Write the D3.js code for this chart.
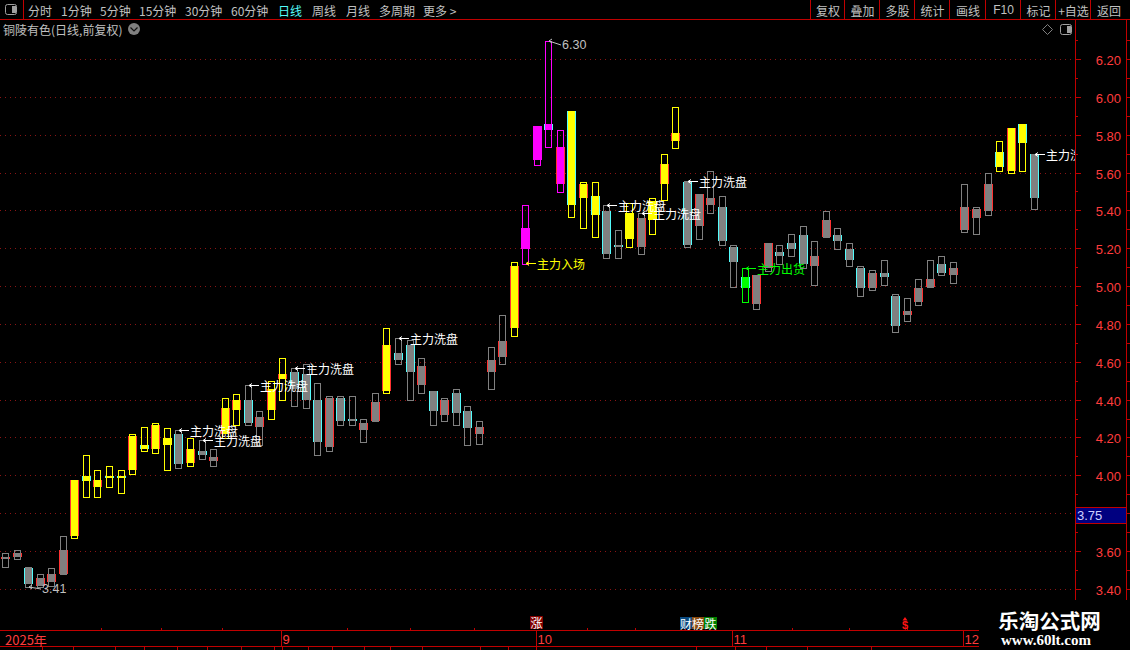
<!DOCTYPE html>
<html><head><meta charset="utf-8">
<script src="https://cdnjs.cloudflare.com/ajax/libs/d3/7.8.5/d3.min.js"></script>
<style>html,body{margin:0;padding:0;background:#000;overflow:hidden}svg{display:block}</style>
</head><body><svg id="c" width="1130" height="650"></svg>
<script>
const opens=[3.56,3.57,3.51,3.42,3.44,3.48,3.68,4.00,3.94,4.00,4.00,4.03,4.16,4.14,4.16,4.22,4.07,4.13,4.08,4.22,4.35,4.40,4.26,4.35,4.51,4.55,4.54,4.40,4.15,4.41,4.30,4.24,4.29,4.45,4.65,4.69,4.48,4.45,4.32,4.44,4.34,4.22,4.55,4.63,4.78,5.20,5.67,5.86,5.54,5.93,5.47,5.48,5.40,5.22,5.25,5.21,5.35,5.54,5.77,5.55,5.32,5.43,5.42,5.21,5.05,4.91,5.10,5.18,5.23,5.27,5.11,5.26,5.27,5.20,5.10,4.99,5.07,4.95,4.85,4.92,5.00,5.12,5.06,5.30,5.36,5.40,5.71,5.61,5.86,5.70];
const closes=[3.57,3.59,3.43,3.46,3.48,3.61,3.98,3.97,3.98,4.00,3.99,4.21,4.14,4.27,4.20,4.06,4.14,4.11,4.10,4.36,4.40,4.28,4.31,4.46,4.54,4.46,4.40,4.18,4.41,4.29,4.29,4.28,4.39,4.69,4.61,4.55,4.58,4.34,4.40,4.33,4.25,4.26,4.61,4.71,5.11,5.31,5.85,5.83,5.74,5.43,5.54,5.38,5.17,5.22,5.39,5.36,5.45,5.65,5.81,5.22,5.49,5.47,5.24,5.13,4.99,5.06,5.23,5.16,5.20,5.12,5.16,5.35,5.24,5.14,4.99,5.07,5.05,4.79,4.87,4.99,5.04,5.07,5.10,5.42,5.41,5.54,5.63,5.84,5.76,5.47];
const highs=[3.59,3.61,3.52,3.48,3.51,3.68,3.98,4.11,4.03,4.05,4.03,4.22,4.26,4.28,4.25,4.24,4.20,4.19,4.14,4.41,4.43,4.48,4.34,4.50,4.62,4.57,4.59,4.49,4.42,4.42,4.42,4.30,4.44,4.78,4.73,4.72,4.62,4.45,4.41,4.46,4.37,4.29,4.68,4.85,5.13,5.43,5.85,6.30,5.83,5.93,5.55,5.55,5.43,5.30,5.44,5.39,5.47,5.70,5.95,5.56,5.49,5.61,5.48,5.22,5.10,5.06,5.23,5.22,5.28,5.32,5.24,5.40,5.31,5.23,5.11,5.09,5.14,4.96,4.94,5.04,5.14,5.16,5.13,5.54,5.42,5.60,5.77,5.84,5.86,5.70];
const lows=[3.52,3.56,3.41,3.41,3.42,3.48,3.67,3.89,3.89,3.94,3.91,4.01,4.13,4.12,4.03,4.04,4.05,4.09,4.05,4.20,4.27,4.27,4.16,4.30,4.40,4.37,4.36,4.11,4.13,4.27,4.27,4.18,4.29,4.44,4.59,4.40,4.44,4.27,4.29,4.27,4.16,4.17,4.46,4.59,4.74,5.12,5.64,5.74,5.50,5.37,5.31,5.26,5.15,5.15,5.21,5.17,5.28,5.46,5.73,5.21,5.25,5.39,5.22,5.00,4.92,4.88,5.08,5.12,5.16,5.10,5.01,5.26,5.20,5.11,4.95,4.98,5.01,4.76,4.82,4.90,5.00,5.06,5.02,5.29,5.28,5.38,5.61,5.60,5.61,5.41];
const yellowBars=[6,7,8,9,10,11,12,13,14,16,19,20,23,24,33,44,49,50,51,54,56,57,58,86,87,88];
const magentaBars=[45,46,47,48];
const greenBars=[64];
const plainEdgeBars=[14,45,46,54,56];
const priceLabels=[6.2,6.0,5.8,5.6,5.4,5.2,5.0,4.8,4.6,4.4,4.2,4.0,3.6,3.4];
const minorPrices=[6.3,6.1,5.9,5.7,5.5,5.3,5.1,4.9,4.7,4.5,4.3,4.1,3.9,3.7,3.5];
const signalBars=[15,17,21,25,34,45,52,55,59,64,89];
const signalTexts=["主力洗盘","主力洗盘","主力洗盘","主力洗盘","主力洗盘","主力入场","主力洗盘","主力洗盘","主力洗盘","主力出货","主力洗盘"];
const signalColors=["#ffffff","#ffffff","#ffffff","#ffffff","#ffffff","#ffff00","#ffffff","#ffffff","#ffffff","#00ff00","#ffffff"];
const monthBars=[0,24,46,63,83];
const monthLabels=["2025年","9","10","11","12"];
const upperTicks=[8.28,13.47,18.75,29.5,35,40.5,50.3,54.5,58.8,68,73,78];
const lowerTicks=[3.16,5.84,9.48,12,14.84,17.44,20.38,23.24,23.93,26.18,28.26,31,33.27,36.04,41.06,43.49,45.9,59.76,63.13,65.81,69.36,74.9];
const leftMenu=["分时","1分钟","5分钟","15分钟","30分钟","60分钟","日线","周线","月线","多周期","更多 >"];
const leftMenuX=[28,61,100,139,185,231,278,312,346,379,423];
const rightMenu=["复权","叠加","多股","统计","画线","F10","标记","+自选","返回"];
const rightMenuEdges=[810,844,879,914,949,985,1020,1055,1090,1126];

const RED="#c00000",TXT="#ff3c3c",CY="#54fcfc",ER="#ff3232",GREY="#808080";
const CJK="'Noto Sans CJK SC','Noto Sans',sans-serif",LAT="'Liberation Sans',sans-serif";
const x=d3.scaleLinear().domain([0,89]).range([5.5,1034.3]);
const y=d3.scaleLinear().domain([3.4,6.2]).range([589.3,59.5]);
const px=i=>Math.floor(x(i)), py=v=>Math.round(y(v));
const svg=d3.select("#c");
svg.append("rect").attr("width",1130).attr("height",650).attr("fill","#000");
const line=(g,a,b,c,d,col)=>g.append("line").attr("x1",a).attr("y1",b).attr("x2",c).attr("y2",d).attr("stroke",col||RED).attr("stroke-width",1).attr("shape-rendering","crispEdges");
const label=(g,a,b,s,col,size,fam,anchor)=>g.append("text").attr("x",a).attr("y",b).text(s).attr("fill",col).attr("font-size",size).attr("font-family",fam||CJK).attr("text-anchor",anchor||"start").attr("dominant-baseline","central");

// grid
const grid=svg.append("g");
priceLabels.concat([3.8]).forEach(p=>{
  const yy=Math.floor(y(p))+.5;
  line(grid,0,yy,1075,yy,"#8a1414").attr("stroke-dasharray","1 4");
});

// toolbar
const tb=svg.append("g");
line(tb,0,19.5,1130,19.5);
line(tb,23.5,0,23.5,19);
tb.append("rect").attr("x",5.5).attr("y",4.5).attr("width",11).attr("height",10).attr("rx",2).attr("fill","none").attr("stroke","#a0a0a0");
tb.append("rect").attr("x",12).attr("y",6).attr("width",4).attr("height",7).attr("fill","#a0a0a0");
leftMenu.forEach((s,i)=>label(tb,leftMenuX[i],10,s,s==="日线"?"#54fcfc":"#c0c0c0",12));
rightMenu.forEach((s,i)=>{
  line(tb,rightMenuEdges[i]+.5,0,rightMenuEdges[i]+.5,19);
  const mid=(rightMenuEdges[i]+rightMenuEdges[i+1])/2;
  label(tb,mid+1,10,s,"#c0c0c0",12,s==="F10"?LAT:CJK,"middle");
});
label(tb,3,29.5,"铜陵有色(日线,前复权)","#c0c0c0",12);
tb.append("circle").attr("cx",134).attr("cy",29).attr("r",6).attr("fill","#808080");
tb.append("path").attr("d","M130.5 27.5L134 31L137.5 27.5").attr("fill","none").attr("stroke","#111").attr("stroke-width",1.2);
tb.append("path").attr("d","M1047.5 24.5L1052.5 29.5L1047.5 34.5L1042.5 29.5Z").attr("fill","none").attr("stroke","#808080");
tb.append("rect").attr("x",1060.5).attr("y",24.5).attr("width",11).attr("height",10).attr("rx",2).attr("fill","none").attr("stroke","#a0a0a0");
tb.append("rect").attr("x",1067).attr("y",26).attr("width",4).attr("height",7).attr("fill","#a0a0a0");

// candles
const toneOf=i=>yellowBars.includes(i)?"#ffff00":magentaBars.includes(i)?"#ff00ff":greenBars.includes(i)?"#00ff00":GREY;
const bars=svg.append("g").attr("shape-rendering","crispEdges");
const idx=d3.range(closes.length);
bars.selectAll("rect.w").data(idx).join("rect").attr("class","w")
  .attr("x",i=>px(i)-2.5).attr("width",6)
  .attr("y",i=>py(highs[i])+.5).attr("height",i=>Math.max(1,py(lows[i])-py(highs[i])))
  .attr("fill","none").attr("stroke",toneOf);
const bodyTop=i=>py(Math.max(opens[i],closes[i])), bodyH=i=>Math.max(2,py(Math.min(opens[i],closes[i]))-bodyTop(i));
bars.selectAll("rect.b").data(idx).join("rect").attr("class","b")
  .attr("x",i=>px(i)-3).attr("width",7)
  .attr("y",bodyTop).attr("height",bodyH).attr("fill",toneOf);
const edge=i=>plainEdgeBars.includes(i)?toneOf(i):(closes[i]>opens[i]?ER:CY);
[-4,4].forEach(d=>{
  bars.selectAll("rect.e"+(d+4)).data(idx).join("rect").attr("class","e"+(d+4))
   .attr("x",i=>px(i)+d).attr("width",1).attr("y",bodyTop).attr("height",bodyH).attr("fill",edge);
});

// signals
const defs=svg.append("defs");
defs.append("clipPath").attr("id","plot").append("rect").attr("x",0).attr("y",20).attr("width",1075).attr("height",610);
const ann=svg.append("g").attr("clip-path","url(#plot)");
signalBars.forEach((b,k)=>{
  const tx=px(b)+1, ty=signalTexts[k]==="主力入场"?py(lows[b])-.5:py(highs[b])+.5, col=signalColors[k];
  ann.append("path").attr("d",`M${tx} ${ty}H${tx+10}M${tx} ${ty}L${tx+3} ${ty-2}M${tx} ${ty}L${tx+3} ${ty+2}`).attr("fill","none").attr("stroke",col).attr("stroke-width",1);
  label(ann,tx+11,ty,signalTexts[k],col,12);
});
// extremes
const hiI=d3.greatest(idx,i=>highs[i]), loI=d3.least(idx,i=>lows[i]);
function extreme(i,v,dy){
  const tx=px(i)+1, ty=py(v), col="#c0c0c0";
  ann.append("path").attr("d",`M${tx} ${ty}L${tx+12} ${ty+dy}M${tx} ${ty}L${tx+3} ${ty-2}M${tx} ${ty}L${tx+3} ${ty+2}`).attr("fill","none").attr("stroke",col);
  label(ann,tx+13,ty+dy,v.toFixed(2),col,12.5,LAT);
}
extreme(hiI,highs[hiI],4);
extreme(loI,lows[loI],2);

// right axis
const ax=svg.append("g");
line(ax,1075.5,19,1075.5,600);
line(ax,1126.5,19,1126.5,600);
priceLabels.concat([3.8]).forEach(p=>{const yy=Math.floor(y(p))+.5;
  line(ax,1075,yy,1081,yy);
  line(ax,1127,yy,1130,yy);
  if(p!==3.8) label(ax,1121,yy+.5,p.toFixed(2),TXT,13,LAT,"end");
});
minorPrices.forEach(p=>{const yy=Math.floor(y(p))+.5;
  line(ax,1075,yy,1078,yy);
  line(ax,1127,yy,1130,yy);
});
ax.append("rect").attr("x",1075.5).attr("y",507.5).attr("width",51).attr("height",16).attr("fill","#000080").attr("stroke",RED);
label(ax,1077,515.5,"3.75","#d0d0ff",13,LAT);

// date axis
const dt=svg.append("g");
line(dt,0,630.5,1075,630.5);
line(dt,0,646.5,1075,646.5);
upperTicks.forEach(t=>line(dt,Math.round(x(t))+.5,628,Math.round(x(t))+.5,630));
lowerTicks.forEach(t=>line(dt,Math.round(x(t))+.5,647,Math.round(x(t))+.5,650));
monthBars.forEach((b,i)=>{
  if(i>0) line(dt,px(b)-.5,630,px(b)-.5,646);
  label(dt,i===0?5:px(b)+.5,639,monthLabels[i],TXT,13,i===0?CJK:LAT);
});

// event badges
const badges=svg.append("g");
function badge(a,w,b,h,bg,s){
  badges.append("rect").attr("x",a).attr("y",b).attr("width",w).attr("height",h).attr("fill",bg);
  label(badges,a+w/2,b+h/2,s,"#ffffff",12,CJK,"middle");
}
badge(530,13,616,13,"#800000","涨");
badge(680,12,617,12,"#0a4a80","财");
badge(692,12,617,12,"#8a4a10","榜");
badge(704,13,617,12,"#008000","跌");
badges.append("text").attr("x",905).attr("y",629).attr("fill","#ff1414").attr("font-size",11).attr("font-weight","bold").attr("font-family",LAT).attr("text-anchor","middle").text("$");
badges.append("path").attr("d","M905 617L907.5 620.5H902.5Z").attr("fill","#ff1414");

// watermark
const wm=svg.append("g");
wm.append("rect").attr("x",979).attr("y",604).attr("width",151).attr("height",46).attr("fill","#000");
label(wm,1049.5,619.5,"乐淘公式网","#ffffff",20.5,CJK,"middle").attr("font-weight","bold");
label(wm,1046,640,"www.60lt.com","#ffffff",15,"'Liberation Serif',serif","middle").attr("font-weight","bold");
</script></body></html>
